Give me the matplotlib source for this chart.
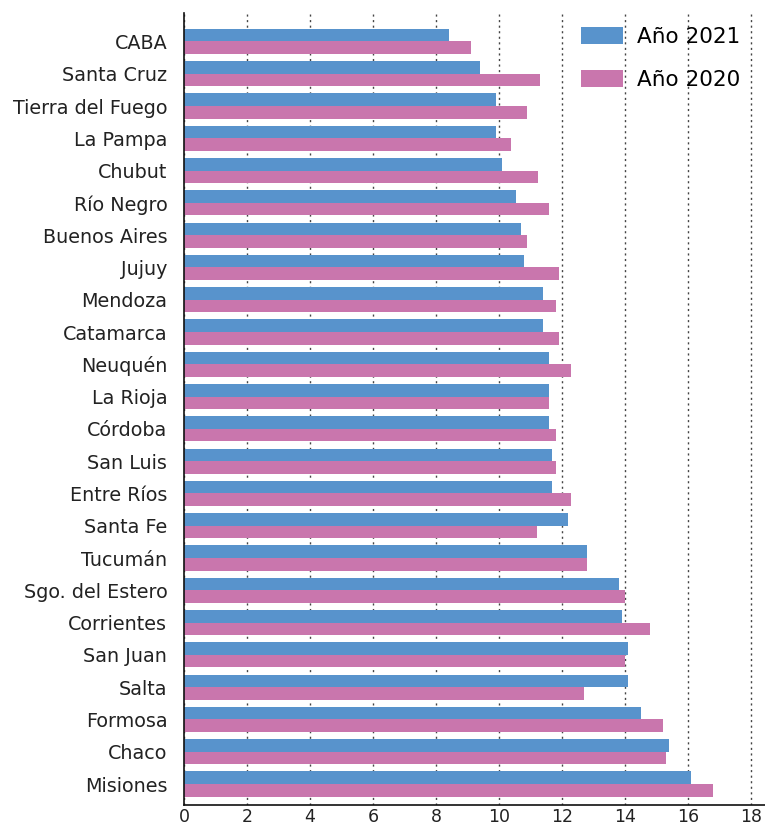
import matplotlib
matplotlib.use("Agg")
import matplotlib.pyplot as plt
import numpy as np

provincias = ["CABA", "Santa Cruz", "Tierra del Fuego", "La Pampa", "Chubut", "Río Negro",
              "Buenos Aires", "Jujuy", "Mendoza", "Catamarca", "Neuquén", "La Rioja",
              "Córdoba", "San Luis", "Entre Ríos", "Santa Fe", "Tucumán", "Sgo. del Estero",
              "Corrientes", "San Juan", "Salta", "Formosa", "Chaco", "Misiones"]
anio_2021 = [8.4, 9.4, 9.9, 9.9, 10.1, 10.55, 10.7, 10.8, 11.4, 11.4, 11.6, 11.6,
             11.6, 11.7, 11.7, 12.2, 12.8, 13.8, 13.9, 14.1, 14.1, 14.5, 15.4, 16.1]
anio_2020 = [9.1, 11.3, 10.9, 10.4, 11.25, 11.6, 10.9, 11.9, 11.8, 11.9, 12.3, 11.6,
             11.8, 11.8, 12.3, 11.2, 12.8, 14.0, 14.8, 14.0, 12.7, 15.2, 15.3, 16.8]
etiquetas_x = [0, 2, 4, 6, 8, 10, 12, 14, 16, 18]

azul = "#5893CC"
rosa = "#C976AD"

plt.rcParams["font.family"] = ["DejaVu Sans"]

fig = plt.figure(figsize=(7.65, 8.25), dpi=100)
ax = fig.add_axes([0.2405, 0.0242, 0.7595, 0.960])

# grilla punteada detras de las barras
ax.set_axisbelow(True)
ax.grid(axis="x", linestyle=(0, (1.5, 2.5)), color="#444444", linewidth=1)

y = np.arange(len(provincias))
alto = 0.39
ax.barh(y - alto / 2, anio_2021, height=alto, color=azul, label="Año 2021", zorder=2)
ax.barh(y + alto / 2, anio_2020, height=alto, color=rosa, label="Año 2020", zorder=2)

ax.set_yticks(y)
ax.set_yticklabels(provincias, fontsize=13.8, color="#222222")
ax.set_ylim(23.65, -0.88)
ax.set_xlim(0, 18.45)
ax.set_xticks(etiquetas_x)
ax.set_xticklabels([str(v) for v in etiquetas_x], fontsize=12.5, color="#222222")
ax.tick_params(axis="y", length=0, pad=12)
ax.tick_params(axis="x", length=0, pad=2)

for s in ["top", "right"]:
    ax.spines[s].set_visible(False)
ax.spines["left"].set_color("#111111")
ax.spines["left"].set_linewidth(1.2)
ax.spines["bottom"].set_color("#111111")
ax.spines["bottom"].set_linewidth(1.2)
ax.spines["left"].set_zorder(4)

leg = ax.legend(loc="upper left", bbox_to_anchor=(0.669, 0.993), frameon=False, fontsize=15.5,
                handlelength=1.95, handleheight=0.8, labelspacing=1.05, handletextpad=0.65,
                borderaxespad=0.0)

fig.savefig("out.png", dpi=100)
